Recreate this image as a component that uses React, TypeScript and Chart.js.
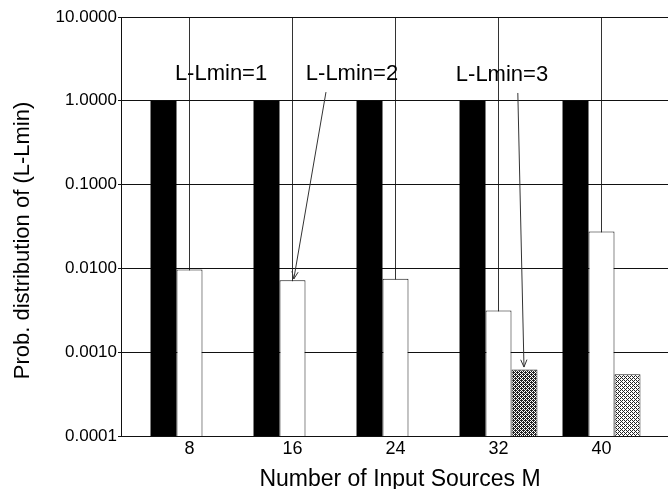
import React, { useEffect, useRef } from "react";
import { Chart, registerables } from "chart.js";

Chart.register(...registerables);

const categories = [8, 16, 24, 32, 40];
const seriesL1 = [1.0, 1.0, 1.0, 1.0, 1.0];
const seriesL2 = [0.0097, 0.00724, 0.0075, 0.00315, 0.0276];
const seriesL3: (number | null)[] = [null, null, null, 0.00062, 0.000547];
const yTickValues = [0.0001, 0.001, 0.01, 0.1, 1, 10];
const xTitle = "Number of Input Sources M";
const yTitle = "Prob. distribution of (L-Lmin)";
const annotations = [
  { text: "L-Lmin=1", x: 10.45, y: 2.09 },
  { text: "L-Lmin=2", x: 20.62, y: 2.09 },
  { text: "L-Lmin=3", x: 32.27, y: 2.03 },
];
const arrows = [
  { from: [18.6, 1.27], to: [16.1, 0.00748] },
  { from: [33.5, 1.24], to: [33.98, 0.000665] },
];

const FONT = "'Liberation Sans', Arial, Helvetica, sans-serif";

function makePattern(level: number): CanvasPattern | string {
  const bayer = [0, 8, 2, 10, 12, 4, 14, 6, 3, 11, 1, 9, 15, 7, 13, 5];
  const c = document.createElement("canvas");
  c.width = 4;
  c.height = 4;
  const ctx = c.getContext("2d");
  if (!ctx) return "#888";
  ctx.fillStyle = "#ffffff";
  ctx.fillRect(0, 0, 4, 4);
  ctx.fillStyle = "#222222";
  for (let i = 0; i < 16; i++) {
    if ((bayer[i] + 0.5) / 16 < level) ctx.fillRect(i % 4, Math.floor(i / 4), 1, 1);
  }
  const p = ctx.createPattern(c, "repeat");
  return p || "#888";
}

export default function App() {
  const ref = useRef<HTMLCanvasElement | null>(null);

  useEffect(() => {
    if (!ref.current) return;
    const darkPat = makePattern(0.6);
    const lightPat = makePattern(0.35);
    const l3Colors = [null, null, null, darkPat, lightPat].map((c) => c || "#888");

    const overlay = {
      id: "overlay",
      afterDatasetsDraw(chart: any) {
        const ctx = chart.ctx as CanvasRenderingContext2D;
        const xs = chart.scales.x;
        const ys = chart.scales.y;
        ctx.save();
        ctx.fillStyle = "#000";
        ctx.font = `22px ${FONT}`;
        ctx.textAlign = "center";
        ctx.textBaseline = "middle";
        for (const a of annotations) {
          ctx.fillText(a.text, xs.getPixelForValue(a.x), ys.getPixelForValue(a.y));
        }
        ctx.strokeStyle = "#333";
        ctx.lineWidth = 1;
        for (const ar of arrows) {
          const x1 = xs.getPixelForValue(ar.from[0]);
          const y1 = ys.getPixelForValue(ar.from[1]);
          const x2 = xs.getPixelForValue(ar.to[0]);
          const y2 = ys.getPixelForValue(ar.to[1]);
          ctx.beginPath();
          ctx.moveTo(x1, y1);
          ctx.lineTo(x2, y2);
          const ang = Math.atan2(y2 - y1, x2 - x1);
          const len = 8;
          ctx.moveTo(x2, y2);
          ctx.lineTo(x2 - len * Math.cos(ang - 0.4), y2 - len * Math.sin(ang - 0.4));
          ctx.moveTo(x2, y2);
          ctx.lineTo(x2 - len * Math.cos(ang + 0.4), y2 - len * Math.sin(ang + 0.4));
          ctx.stroke();
        }
        const area = chart.chartArea;
        ctx.font = `23px ${FONT}`;
        ctx.fillText(xTitle, 400, 480);
        ctx.translate(23, (area.top + area.bottom) / 2 + 14);
        ctx.rotate(-Math.PI / 2);
        ctx.font = `22px ${FONT}`;
        ctx.fillText(yTitle, 0, 0);
        ctx.restore();
      },
    };

    const chart = new Chart(ref.current, {
      type: "bar",
      data: {
        datasets: [
          {
            label: "L-Lmin=0",
            data: categories.map((x, i) => ({ x, y: seriesL1[i] })),
            backgroundColor: "#000",
            borderColor: "#000",
            borderWidth: 0,
          },
          {
            label: "L-Lmin=1",
            data: categories.map((x, i) => ({ x, y: seriesL2[i] })),
            backgroundColor: "#fff",
            borderColor: "#111",
            borderWidth: 1,
          },
          {
            label: "L-Lmin=2",
            data: categories.map((x, i) => ({ x, y: seriesL3[i] })),
            backgroundColor: l3Colors as any,
            borderColor: "#222",
            borderWidth: 1,
          },
        ] as any,
      },
      options: {
        animation: false,
        responsive: true,
        maintainAspectRatio: false,
        layout: { padding: { top: 17, right: 10, left: 0, bottom: 0 } },
        datasets: { bar: { categoryPercentage: 0.757, barPercentage: 1 } },
        plugins: { legend: { display: false }, tooltip: { enabled: false } },
        scales: {
          x: {
            type: "linear",
            offset: false,
            min: 2.68,
            max: 45.32,
            afterBuildTicks: (s: any) => {
              s.ticks = categories.map((v) => ({ value: v }));
            },
            afterFit: (s: any) => {
              s.height = 53;
            },
            grid: { color: "#333", lineWidth: 1, drawTicks: false, offset: false },
            border: { color: "#111", width: 1 },
            ticks: {
              color: "#000",
              padding: 2,
              font: { family: FONT, size: 18 },
              callback: (v: any) => String(v),
            },
          },
          y: {
            type: "logarithmic",
            min: 0.0001,
            max: 10,
            afterBuildTicks: (s: any) => {
              s.ticks = yTickValues.map((v) => ({ value: v }));
            },
            afterFit: (s: any) => {
              s.width = 121;
            },
            grid: { color: "#111", lineWidth: 1, tickLength: 3 },
            border: { color: "#111", width: 1 },
            ticks: {
              color: "#000",
              padding: 1,
              font: { family: FONT, size: 17 },
              callback: (v: any) => Number(v).toFixed(4),
            },
          },
        },
      } as any,
      plugins: [overlay],
    });
    return () => chart.destroy();
  }, []);

  return (
    <div
      style={{
        position: "fixed",
        left: 0,
        top: 0,
        width: 668,
        height: 489,
        overflow: "hidden",
        background: "#fff",
      }}
    >
      <div style={{ position: "absolute", left: 0, top: 0, width: 680, height: 489 }}>
        <canvas ref={ref} />
      </div>
    </div>
  );
}
